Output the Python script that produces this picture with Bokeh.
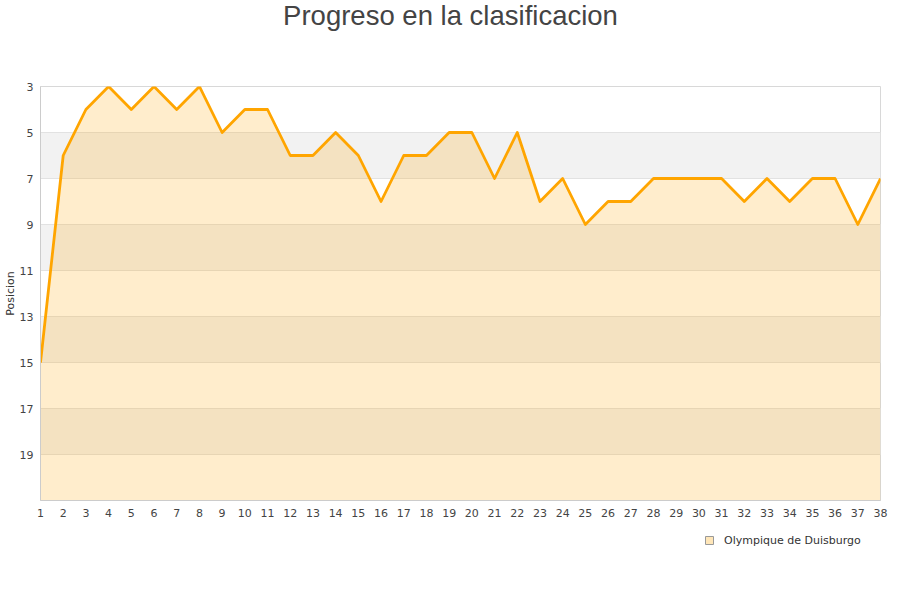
from bokeh.plotting import figure
from bokeh.layouts import column
from bokeh.models import Range1d, FixedTicker, Legend, LegendItem, Label
from bokeh.embed import file_html
from bokeh.resources import INLINE

# ---- data ----
titulo = "Progreso en la clasificacion"
equipo = "Olympique de Duisburgo"
eje_y = "Posicion"
jornadas = list(range(1, 39))
posiciones = [15, 6, 4, 3, 4, 3, 4, 3, 5, 4, 4, 6, 6, 5, 6, 8, 6, 6, 5, 5,
              7, 5, 8, 7, 9, 8, 8, 7, 7, 7, 7, 8, 7, 8, 7, 7, 9, 7]
ticks_y = [3, 5, 7, 9, 11, 13, 15, 17, 19]
grid_y = [3, 5, 7, 9, 11, 13, 15, 17, 19, 21]
pos_min, pos_max = 3, 21

W = 892
NAR = "#ffa500"
FRAME_LEFT = 40


def blank(height):
    f = figure(width=W, height=height, output_backend="svg",
               toolbar_location=None, x_axis_type=None, y_axis_type=None,
               x_range=Range1d(0, 1), y_range=Range1d(0, 1),
               min_border=0, min_border_left=0, min_border_right=0,
               min_border_top=0, min_border_bottom=0)
    f.outline_line_color = None
    f.grid.visible = False
    return f


# ---- title ----
pt = blank(78)
pt.add_layout(Label(x=450 - FRAME_LEFT, y=63, x_units="screen",
                    y_units="screen", text=titulo, text_align="center",
                    text_baseline="middle", text_font="Liberation Sans",
                    text_font_size="27.5px", text_color="#444444"))

# ---- main chart ----
p = figure(width=W, height=452, output_backend="svg", toolbar_location=None,
           x_range=Range1d(1, 38), y_range=Range1d(pos_max, pos_min),
           min_border_left=FRAME_LEFT, min_border_right=12, min_border_top=8,
           min_border_bottom=30, background_fill_color="white",
           border_fill_color="white")
p.outline_line_color = "#d8d8d8"

p.xgrid.visible = False
p.ygrid.ticker = FixedTicker(ticks=grid_y)
p.ygrid.grid_line_color = "#e2e2e2"
p.ygrid.band_fill_color = "#f2f2f2"
p.ygrid.band_fill_alpha = 1.0

p.xaxis.ticker = FixedTicker(ticks=jornadas)
p.yaxis.ticker = FixedTicker(ticks=ticks_y)
for ax in (p.xaxis[0], p.yaxis[0]):
    ax.major_tick_out = 0
    ax.major_tick_in = 0
    ax.minor_tick_out = 0
    ax.minor_tick_in = 0
    ax.axis_line_color = "#cccccc"
    ax.major_label_text_font = "DejaVu Sans"
    ax.major_label_text_font_size = "11px"
    ax.major_label_text_color = "#444444"
p.xaxis.major_label_standoff = 8
p.yaxis.major_label_standoff = 7
p.yaxis.axis_label = eje_y
p.yaxis.axis_label_standoff = 0
p.yaxis.axis_label_text_font = "DejaVu Sans"
p.yaxis.axis_label_text_font_size = "11px"
p.yaxis.axis_label_text_font_style = "normal"
p.yaxis.axis_label_text_color = "#333333"

p.varea(x=jornadas, y1=posiciones, y2=[pos_max] * len(jornadas),
        fill_color=NAR, fill_alpha=0.2)
p.line(x=jornadas, y=posiciones, line_color=NAR, line_width=2.8,
       line_join="round")

# ---- legend ----
pl = blank(60)
icon = pl.scatter(x=jornadas, y=posiciones, size=0, marker="square",
                  fill_color="#ffe6b8", line_color="#999999", line_width=1)
legend = Legend(items=[LegendItem(label=equipo, renderers=[icon])],
                location=(699 - FRAME_LEFT, 40), orientation="horizontal",
                glyph_width=20, glyph_height=20, label_standoff=5,
                padding=0, margin=0, spacing=0,
                background_fill_alpha=0, border_line_alpha=0,
                label_text_font="DejaVu Sans", label_text_font_size="11px",
                label_text_color="#333333", label_height=20)
pl.add_layout(legend, "center")

page = column(pt, p, pl, spacing=0)
open("out.html", "w").write(file_html(page, INLINE))
